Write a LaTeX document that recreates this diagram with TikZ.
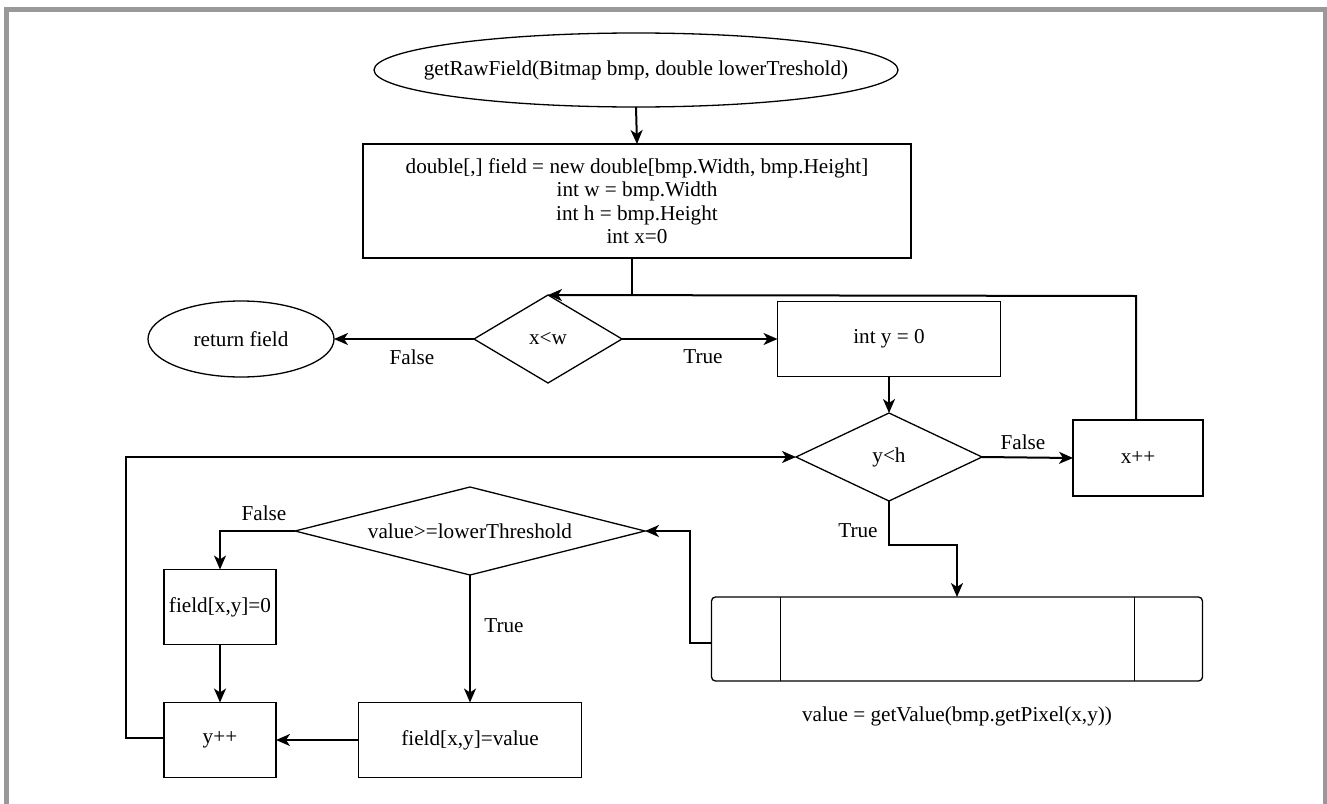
\documentclass[tikz,border=0pt]{standalone}
\usepackage{fontspec}
\setmainfont{Liberation Serif}
\usetikzlibrary{arrows.meta,shapes.geometric,calc}
\definecolor{framegray}{RGB}{153,153,153}
\begin{document}
\begin{tikzpicture}[x=1pt,y=-1pt,
  every node/.style={font=\fontsize{21.2}{23.5}\selectfont, inner sep=0pt, outer sep=0pt},
  shapeline/.style={draw=black, line width=1.3pt},
  procbox/.style={shapeline, rectangle, align=center},
  term/.style={shapeline, ellipse},
  decision/.style={shapeline, diamond},
  arr/.style={draw=black, line width=2pt, -{Stealth[length=14pt,width=12pt,inset=4pt]}},
  conn/.style={draw=black, line width=2pt},
  lbl/.style={}
]
\useasboundingbox (0,0) rectangle (1327,803);
\fill[white] (0,0) rectangle (1327,803);
\draw[framegray, line width=5pt] (6,806) -- (6,9.5) -- (1325,9.5) -- (1325,806);

% nodes
\node[term, inner xsep=-28pt, minimum width=524pt, minimum height=74pt] (start) at (636,70) {getRawField(Bitmap bmp, double lowerTreshold)};
\node[procbox, minimum width=548pt, minimum height=114pt] (init) at (637,201)
  {double[,] field = new double[bmp.Width, bmp.Height]\\int w = bmp.Width\\int h = bmp.Height\\int x=0};
\node[decision, minimum width=148pt, minimum height=88pt, aspect=2] (cx) at (548,339) {x<w};
\node[term, minimum width=186pt, minimum height=76pt] (ret) at (241,339) {return field};
\node[procbox, minimum width=223pt, minimum height=75pt] (iy) at (889,339) {int y = 0};
\node[decision, minimum width=186pt, minimum height=88pt, aspect=2] (cy) at (889,457) {y<h};
\node[procbox, minimum width=130pt, minimum height=76pt] (xpp) at (1138,458) {x++};
\node[shapeline, rectangle, rounded corners=4pt, minimum width=491pt, minimum height=84pt] (proc) at (957,639) {};
\node (proclbl) at (957,716) {value = getValue(bmp.getPixel(x,y))};
\node[decision, minimum width=350pt, minimum height=88pt, aspect=4] (cv) at (470,531) {value>=lowerThreshold};
\node[procbox, minimum width=112pt, minimum height=75pt] (f0) at (220,607) {field[x,y]=0};
\node[procbox, minimum width=223pt, minimum height=75pt] (fv) at (470,740) {field[x,y]=value};
\node[procbox, minimum width=112pt, minimum height=75pt] (ypp) at (220,740) {y++};

% predefined process inner lines
\draw[shapeline] ([xshift=69pt]proc.north west) -- ([xshift=69pt]proc.south west);
\draw[shapeline] ([xshift=-68pt]proc.north east) -- ([xshift=-68pt]proc.south east);

% labels
\node[lbl] (lf1) at (412,357) {False};
\node[lbl] (lt1) at (703,357) {True};
\node[lbl] (lf2) at (1023,442) {False};
\node[lbl] (lt2) at (858,531) {True};
\node[lbl] (lf3) at (264,513) {False};
\node[lbl] (lt3) at (504,626) {True};

% connectors
\coordinate (j1) at (632,296);
\coordinate (j3) at (1136,296);
\draw[arr] (start.south) -- (init.north);
\draw[conn] (init.south -| j1) -- (j1);
\draw[arr] (xpp.north -| j3) -- (j3) -- (cx.north);
\draw[arr] (cx.west) -- (ret.east);
\draw[arr] (cx.east) -- (iy.west);
\draw[arr] (iy.south) -- (cy.north);
\draw[arr] (cy.east) -- (xpp.west);
\draw[arr] (cy.south) -- ++(0,44) -| (proc.north);
\draw[arr] ([yshift=-4pt]proc.west) -- ++(-22,0) |- (cv.east);
\draw[arr] (cv.west) -| (f0.north);
\draw[arr] (cv.south) -- (fv.north);
\draw[arr] (f0.south) -- (ypp.north);
\draw[arr] (fv.west) -- (ypp.east);
\draw[arr] ([yshift=2pt]ypp.west) -- ++(-38,0) |- (cy.west);
\end{tikzpicture}
\end{document}
